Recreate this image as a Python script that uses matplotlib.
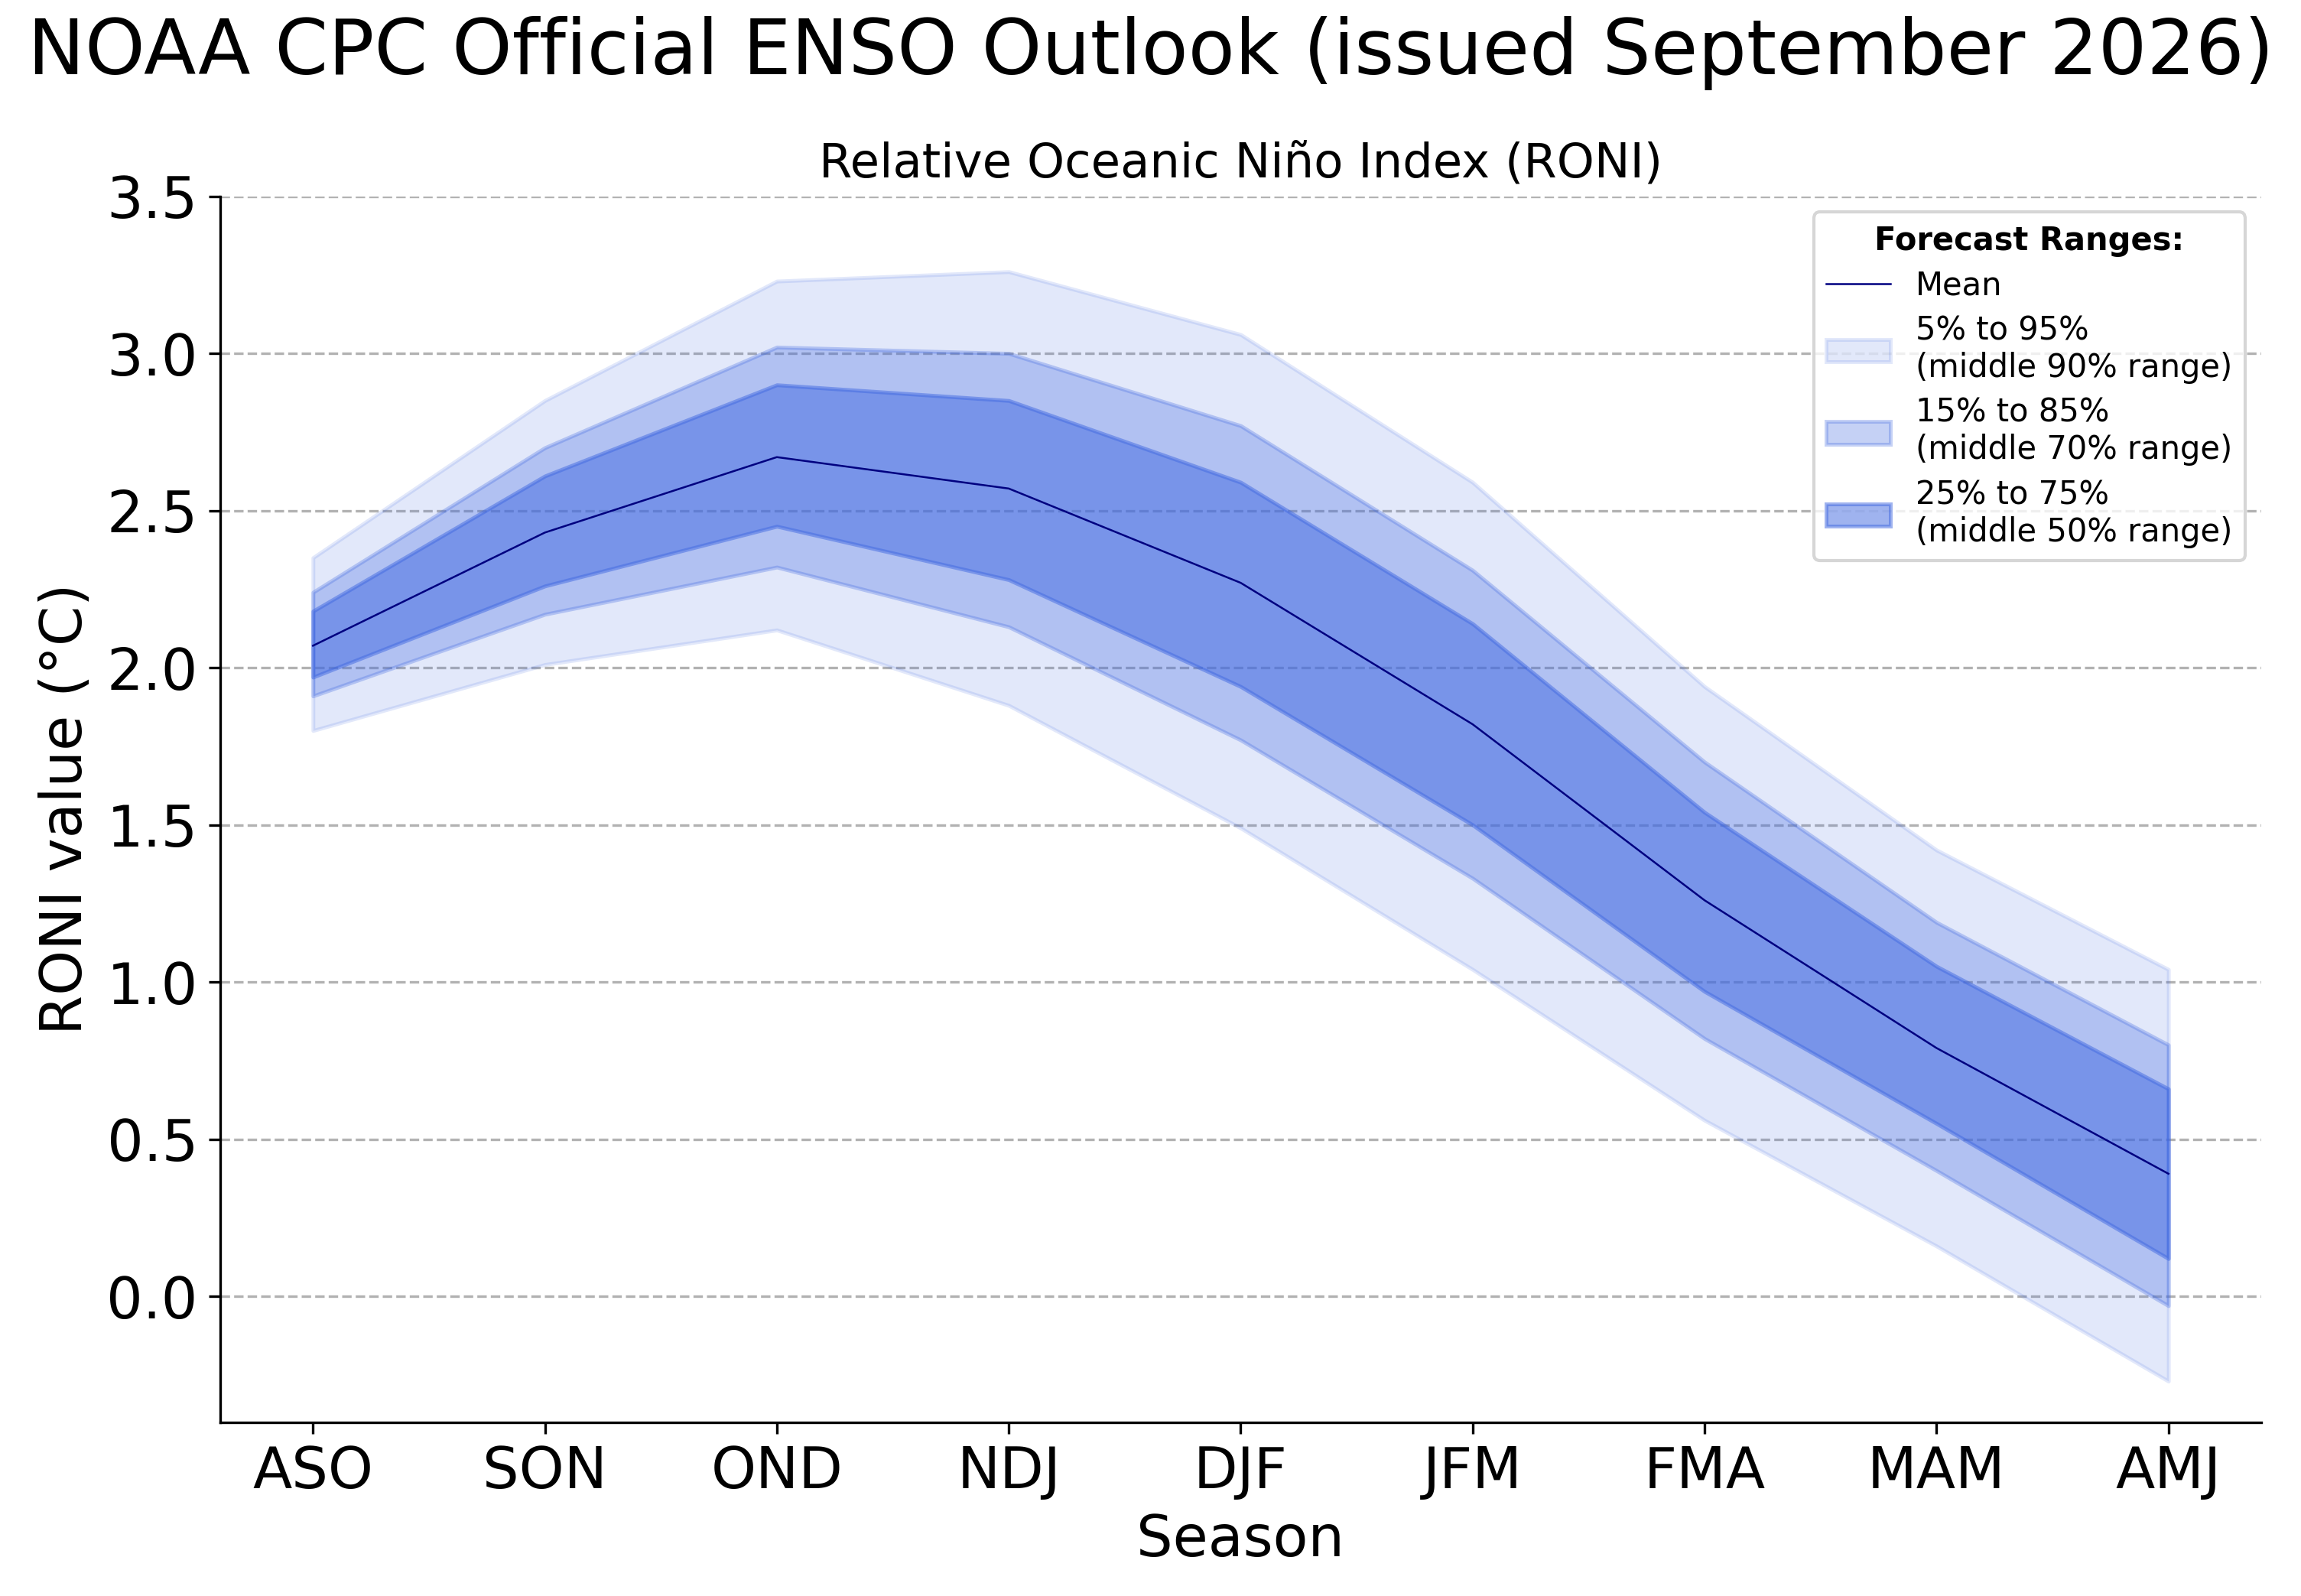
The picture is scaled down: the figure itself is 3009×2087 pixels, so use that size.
import matplotlib
matplotlib.use("Agg")
import matplotlib.pyplot as plt
import numpy as np

seasons = ["ASO", "SON", "OND", "NDJ", "DJF", "JFM", "FMA", "MAM", "AMJ"]
mean = [2.07, 2.43, 2.67, 2.57, 2.27, 1.82, 1.26, 0.79, 0.39]
p05 = [1.80, 2.01, 2.12, 1.88, 1.49, 1.04, 0.56, 0.16, -0.27]
p95 = [2.35, 2.85, 3.23, 3.26, 3.06, 2.59, 1.94, 1.42, 1.04]
p15 = [1.91, 2.17, 2.32, 2.13, 1.77, 1.33, 0.82, 0.40, -0.03]
p85 = [2.24, 2.70, 3.02, 3.00, 2.77, 2.31, 1.70, 1.19, 0.80]
p25 = [1.97, 2.26, 2.45, 2.28, 1.94, 1.50, 0.97, 0.55, 0.12]
p75 = [2.18, 2.61, 2.90, 2.85, 2.59, 2.14, 1.54, 1.05, 0.66]

x = np.arange(len(seasons))

fig = plt.figure(figsize=(10.03, 6.957), dpi=300)
ax = fig.add_axes([0.0957, 0.109, 0.887, 0.768])

ax.plot(x, mean, color="navy", linewidth=0.6, label="Mean", zorder=5)
ax.fill_between(x, p05, p95, color="royalblue", alpha=0.15, linewidth=1.2,
                label="5% to 95%\n(middle 90% range)")
ax.fill_between(x, p15, p85, color="royalblue", alpha=0.3, linewidth=1.2,
                label="15% to 85%\n(middle 70% range)")
ax.fill_between(x, p25, p75, color="royalblue", alpha=0.5, linewidth=1.2,
                label="25% to 75%\n(middle 50% range)")

ax.set_xticks(x)
ax.set_xticklabels(seasons)
ax.set_xlim(-0.4, 8.4)
ax.set_ylim(-0.4, 3.5)
ax.set_yticks(np.arange(0, 3.51, 0.5))
ax.tick_params(axis="both", labelsize=18)
ax.grid(axis="y", linestyle="--", color="gray", alpha=0.6, linewidth=0.8)
ax.set_axisbelow(True)
for s in ["top", "right"]:
    ax.spines[s].set_visible(False)

ax.set_xlabel("Season", fontsize=18)
ax.set_ylabel("RONI value (°C)", fontsize=18)
ax.set_title("Relative Oceanic Niño Index (RONI)", fontsize=15)
fig.suptitle("NOAA CPC Official ENSO Outlook (issued September 2026)",
             fontsize=24, y=0.99)

leg = ax.legend(loc="upper right", fontsize=10, labelspacing=0.4,
                title="Forecast Ranges:",
                title_fontproperties={"weight": "bold", "size": 10})

fig.savefig("out.png", dpi=300)
